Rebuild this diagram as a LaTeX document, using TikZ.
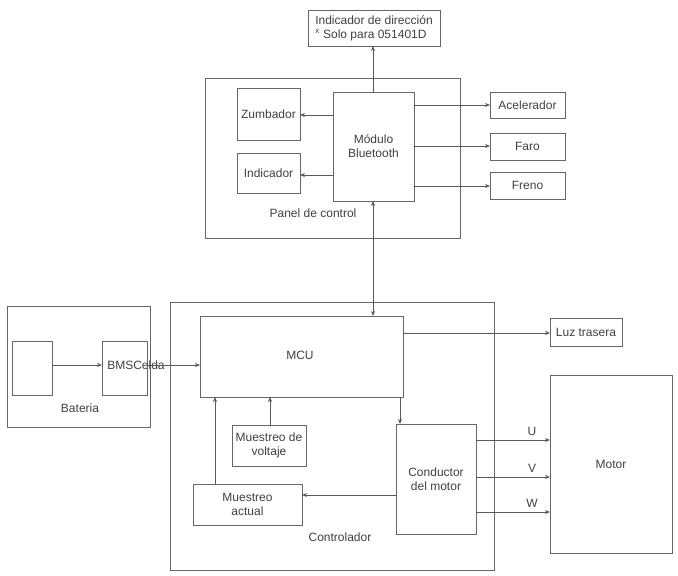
\documentclass[tikz,border=0pt]{standalone}
\usepackage{fontspec}
\setmainfont{Liberation Sans}
\usetikzlibrary{arrows.meta}
\begin{document}
\begin{tikzpicture}[x=1pt,y=-1pt,
  box/.style={draw=black!60,line width=0.8pt},
  lbl/.style={text=black!75,font=\fontsize{12}{14}\selectfont,align=center,inner sep=0pt},
  arr/.style={draw=black!65,line width=0.8pt,-{Stealth[length=5pt,width=4pt]}}]
\useasboundingbox (0,0) rectangle (678,576);
% boxes
\draw[box] (308,10) rectangle (440,46) coordinate (ind);
\node[lbl,align=left] (indt) at (374,28) {Indicador de dirección\\\textsuperscript{x} Solo para 051401D};
\draw[box] (205,78) rectangle (460,238);
\node[lbl] (pc) at (313,213) {Panel de control};
\draw[box] (237,88) rectangle (300,140); \node[lbl] (zum) at (268.5,114) {Zumbador};
\draw[box] (237,153) rectangle (300,193); \node[lbl] (indc) at (268.5,173) {Indicador};
\draw[box] (333,92) rectangle (414,201); \node[lbl] (bt) at (373.5,146) {Módulo\\Bluetooth};
\draw[box] (490,92) rectangle (565,118); \node[lbl] (ac) at (527.5,105) {Acelerador};
\draw[box] (490,133) rectangle (565,160); \node[lbl] (fa) at (527.5,146.5) {Faro};
\draw[box] (490,172) rectangle (565,199); \node[lbl] (fr) at (527.5,185.5) {Freno};
\draw[box] (7,306) rectangle (150,427);
\draw[box] (12,341) rectangle (52,395); \coordinate (cell) at (32,368);
\draw[box] (102,341) rectangle (147,395);
\node[lbl] (bms) at (136,365) {BMSCelda};
\node[lbl] (bat) at (80,408) {Bateria};
\draw[box] (170,302) rectangle (494,570);
\node[lbl] (ctl) at (340,537) {Controlador};
\draw[box] (200,316) rectangle (403,397); \node[lbl] (mcu) at (300,355) {MCU};
\draw[box] (550,318) rectangle (622,346); \node[lbl] (luz) at (586,332) {Luz trasera};
\draw[box] (232,425) rectangle (306,466); \node[lbl] (mv) at (269,445.5) {Muestreo de\\voltaje};
\draw[box] (193,484) rectangle (302,525); \node[lbl] (ma) at (247.5,504.5) {Muestreo\\actual};
\draw[box] (396,424) rectangle (476,534); \node[lbl] (cm) at (436,479) {Conductor\\del motor};
\draw[box] (550,375) rectangle (672,553); \node[lbl] (mot) at (611,464) {Motor};
% arrows
\draw[arr] (373,92) -- (373,46);
\draw[arr] (333,115) -- (300,115);
\draw[arr] (333,175) -- (300,175);
\draw[arr] (414,105) -- (490,105);
\draw[arr] (414,146) -- (490,146);
\draw[arr] (414,186) -- (490,186);
\draw[arr,{Stealth[length=5pt,width=4pt]}-{Stealth[length=5pt,width=4pt]}] (373,201) -- (373,316);
\draw[arr] (52,365) -- (102,365);
\draw[arr] (147,365) -- (200,365);
\draw[arr] (403,333) -- (550,333);
\draw[arr] (270,425) -- (270,397);
\draw[arr] (215,484) -- (215,397);
\draw[arr] (400,397) -- (400,424);
\draw[arr] (396,495) -- (302,495);
\draw[arr] (476,440) -- (550,440); \node[lbl] (u) at (532,431) {U};
\draw[arr] (476,477) -- (550,477); \node[lbl] (v) at (532,468) {V};
\draw[arr] (476,512) -- (550,512); \node[lbl] (w) at (532,503) {W};
\end{tikzpicture}
\end{document}
